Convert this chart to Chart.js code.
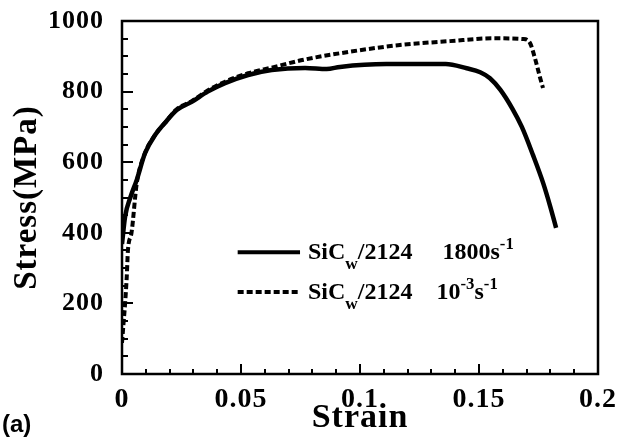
<!DOCTYPE html>
<html lang="en">
<head>
<meta charset="UTF-8" />
<title>Stress-Strain SiCw/2124</title>
<style>
  html, body { margin: 0; padding: 0; background: #fff; }
  #wrap { width: 633px; height: 440px; }
</style>
</head>
<body>
<div id="wrap"><canvas id="myChart" width="633" height="440"></canvas></div>
<script src="https://cdn.jsdelivr.net/npm/chart.js@4.4.0/dist/chart.umd.min.js"></script>
<script>
  // 1800 s^-1 curve (solid)
  const fastStrain = [0, 0.0013, 0.0035, 0.0062, 0.0097, 0.0139, 0.018, 0.023, 0.0293, 0.036, 0.0433, 0.053, 0.0629, 0.0769, 0.086, 0.0916, 0.111, 0.136, 0.1448, 0.1505, 0.1546, 0.159, 0.164, 0.168, 0.1727, 0.177, 0.18, 0.1824];
  const fastStress = [368, 446, 500, 550, 626, 677, 711, 748, 771, 800, 824, 847, 861, 867, 864, 870, 878, 878, 866, 855, 838, 805, 752, 700, 620, 540, 473, 414];

  // 10^-3 s^-1 curve (dashed)
  const slowStrain = [0, 0.0006, 0.0013, 0.002, 0.0025, 0.004, 0.0062, 0.0097, 0.0139, 0.018, 0.023, 0.0293, 0.036, 0.0433, 0.053, 0.0629, 0.0769, 0.0958, 0.1168, 0.1378, 0.156, 0.1685, 0.1714, 0.1735, 0.1756, 0.1769];
  const slowStress = [88, 140, 200, 276, 351, 400, 540, 626, 677, 711, 750, 773, 803, 828, 852, 868, 891, 913, 932, 943, 951, 949, 938, 895, 841, 810];

  const xTicks = [0, 0.05, 0.1, 0.15, 0.2];
  const xTickLabels = ["0", "0.05", "0.1", "0.15", "0.2"];
  const yTicks = [0, 200, 400, 600, 800, 1000];
  const xMinorStep = 0.01;
  const yMinorStep = 50;

  // legend text pieces: [text, "sub" | "sup" | ""]
  const legendFast = [["SiC", ""], ["w", "sub"], ["/2124", ""], ["     1800s", ""], ["-1", "sup"]];
  const legendSlow = [["SiC", ""], ["w", "sub"], ["/2124", ""], ["    10", ""], ["-3", "sup"], ["s", ""], ["-1", "sup"]];

  const serif = "'Liberation Serif', 'Times New Roman', serif";

  function toPoints(xs, ys) {
    return xs.map((x, i) => ({ x: x, y: ys[i] }));
  }

  function drawRich(ctx, parts, x, y, size) {
    let cx = x;
    parts.forEach((p) => {
      let s = size, dy = 0;
      if (p[1] === "sub") { s = size * 0.72; dy = size * 0.4; }
      if (p[1] === "sup") { s = size * 0.7; dy = -size * 0.42; }
      ctx.font = "bold " + s + "px " + serif;
      ctx.fillText(p[0], cx, y + dy);
      cx += ctx.measureText(p[0]).width;
    });
  }

  // frame, inward ticks and legend
  const framePlugin = {
    id: "frame",
    beforeDraw(chart) {
      chart.ctx.letterSpacing = "1px";
    },
    afterDraw(chart) {
      const ctx = chart.ctx;
      const a = chart.chartArea;
      const xs = chart.scales.x;
      const ys = chart.scales.y;
      ctx.save();
      ctx.letterSpacing = "0px";
      ctx.strokeStyle = "#000";
      ctx.lineWidth = 2.5;
      ctx.strokeRect(a.left, a.top, a.right - a.left, a.bottom - a.top);

      ctx.lineWidth = 2;
      ctx.beginPath();
      for (let v = 0; v <= xs.max + 1e-9; v += xMinorStep) {
        const px = Math.round(xs.getPixelForValue(v));
        const major = Math.abs(v / 0.05 - Math.round(v / 0.05)) < 1e-6;
        const len = major ? 10 : 5;
        ctx.moveTo(px, a.bottom);
        ctx.lineTo(px, a.bottom - len);
      }
      for (let v = 0; v <= ys.max; v += yMinorStep) {
        const py = Math.round(ys.getPixelForValue(v));
        const len = v % 200 === 0 ? 11 : 6;
        ctx.moveTo(a.left, py);
        ctx.lineTo(a.left + len, py);
      }
      ctx.stroke();

      // legend
      const lx0 = a.left + 0.243 * (a.right - a.left);
      const lx1 = a.left + 0.374 * (a.right - a.left);
      const ly1 = ys.getPixelForValue(345);
      const ly2 = ys.getPixelForValue(232);
      ctx.lineWidth = 4;
      ctx.beginPath();
      ctx.moveTo(lx0, ly1);
      ctx.lineTo(lx1, ly1);
      ctx.stroke();
      ctx.setLineDash([6, 3]);
      ctx.beginPath();
      ctx.moveTo(lx0, ly2);
      ctx.lineTo(lx1, ly2);
      ctx.stroke();
      ctx.setLineDash([]);

      ctx.fillStyle = "#000";
      ctx.textBaseline = "alphabetic";
      ctx.textAlign = "left";
      drawRich(ctx, legendFast, lx1 + 8, ly1 + 7, 24);
      drawRich(ctx, legendSlow, lx1 + 8, ly2 + 7, 24);

      ctx.font = "bold 24px 'Liberation Sans', Arial, sans-serif";
      ctx.fillText("(a)", 2, 432);
      ctx.restore();
    },
  };

  const myCt = document.getElementById("myChart");
  const myChart = new Chart(myCt, {
    type: "scatter",
    data: {
      datasets: [
        {
          label: "1800s-1",
          data: toPoints(fastStrain, fastStress),
          showLine: true,
          borderColor: "#000",
          borderWidth: 4.5,
          pointRadius: 0,
          cubicInterpolationMode: "monotone",
        },
        {
          label: "10-3s-1",
          data: toPoints(slowStrain, slowStress),
          showLine: true,
          borderColor: "#000",
          borderWidth: 4,
          borderDash: [6, 3],
          pointRadius: 0,
          cubicInterpolationMode: "monotone",
        },
      ],
    },
    options: {
      responsive: false,
      animation: false,
      layout: { padding: { top: 21, right: 35, left: 0, bottom: 0 } },
      plugins: {
        legend: { display: false },
        tooltip: { enabled: false },
      },
      scales: {
        x: {
          type: "linear",
          min: 0,
          max: 0.2,
          afterFit(scale) {
            scale.height = 66;
            scale.paddingLeft = 0;
            scale.paddingRight = 0;
          },
          afterBuildTicks(scale) { scale.ticks = xTicks.map((v) => ({ value: v })); },
          grid: { display: false, drawTicks: false },
          border: { display: false },
          ticks: {
            padding: 9,
            color: "#000",
            maxRotation: 0,
            font: { family: serif, size: 28, weight: "bold" },
            callback: (v, i) => xTickLabels[i],
          },
          title: {
            display: true,
            text: "Strain",
            color: "#000",
            font: { family: serif, size: 34, weight: "bold" },
            padding: { top: 0, bottom: 1 },
          },
        },
        y: {
          min: 0,
          max: 1000,
          afterFit(scale) {
            scale.width = 122;
            scale.paddingTop = 0;
            scale.paddingBottom = 0;
          },
          afterBuildTicks(scale) { scale.ticks = yTicks.map((v) => ({ value: v })); },
          grid: { display: false, drawTicks: false },
          border: { display: false },
          ticks: {
            padding: 18,
            color: "#000",
            font: { family: serif, size: 26, weight: "bold" },
            callback: (v) => String(v),
          },
          title: {
            display: true,
            text: "Stress(MPa)",
            color: "#000",
            font: { family: serif, size: 33, weight: "bold" },
            padding: { top: 8, bottom: 0 },
          },
        },
      },
    },
    plugins: [framePlugin],
  });
</script>
</body>
</html>
